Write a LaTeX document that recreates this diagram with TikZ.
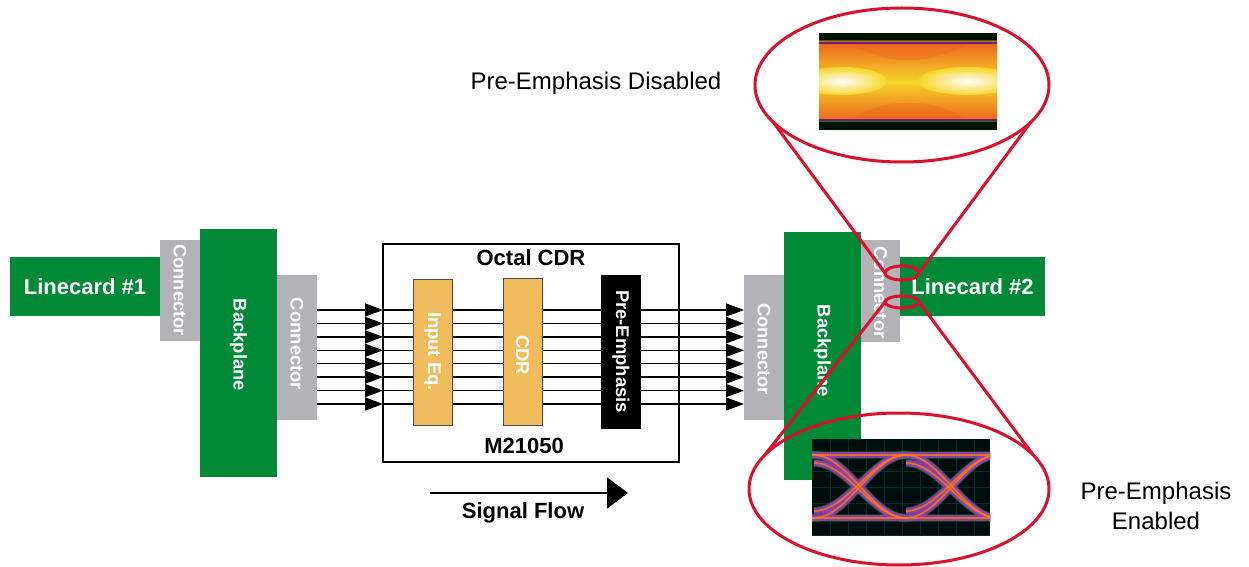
\documentclass[tikz,border=0pt]{standalone}
\usepackage{fontspec}
\setmainfont{Liberation Sans}
\usetikzlibrary{arrows.meta,shapes.geometric,calc}
\definecolor{grn}{RGB}{0,137,54}
\definecolor{gry}{RGB}{179,179,183}
\definecolor{org}{RGB}{240,188,94}
\definecolor{redc}{RGB}{218,16,44}
\definecolor{trp}{RGB}{150,60,190}
\definecolor{eyeo}{RGB}{236,100,30}
\definecolor{eyey}{RGB}{246,214,40}
\newcommand\eyetr[1]{%
  \foreach \a/\b in {455/518,463/518,518/455,511/455}{%
    \draw[#1] (814,\a) cos (860,{(\a+\b)/2}) sin (906,\b);
    \draw[#1] (906,\a) cos (952,{(\a+\b)/2}) sin (998,\b);
    \draw[#1] (722,\a) cos (768,{(\a+\b)/2}) sin (814,\b);
  }
  \draw[#1] (800,455) -- (1000,455);
  \draw[#1] (800,518) -- (1000,518);
}
\begin{document}
\begin{tikzpicture}[x=0.5pt,y=-0.5pt,
  blk/.style={inner sep=0pt, outer sep=0pt},
  gbox/.style={blk, fill=grn, text=white, font=\bfseries\fontsize{11pt}{13pt}\selectfont},
  cbox/.style={blk, fill=gry},
  obox/.style={blk, fill=org, draw=black!70, line width=0.5pt},
  kbox/.style={blk, fill=black},
  rot/.style={inner sep=0pt, rotate=-90, text=white, font=\bfseries\fontsize{9.2pt}{11pt}\selectfont},
  hlab/.style={inner sep=0pt, font=\bfseries\fontsize{11pt}{13pt}\selectfont},
  plab/.style={inner sep=0pt, font=\fontsize{12pt}{14pt}\selectfont, align=center},
  sig/.style={line width=0.75pt, -{Triangle[length=9pt,width=6.5pt]}},
  ell/.style={ellipse, draw=redc, line width=1.5pt, inner sep=0pt, outer sep=0pt},
  redl/.style={draw=redc, line width=1.5pt},
  trG/.style={line width=4.2pt, green!55!black, opacity=.45},
  trA/.style={line width=3.2pt, trp, opacity=.9},
  trB/.style={line width=0.9pt, orange, opacity=.75}
]
\useasboundingbox (0,0) rectangle (1249,567);

% ---- left side
\node[gbox, minimum width=75pt, minimum height=29.5pt] (lc1) at (85,286.5) {Linecard \#1};
\node[cbox, minimum width=20pt, minimum height=50.5pt] (con1) at (180,290.5) {};
\node[gbox, minimum width=38.5pt, minimum height=124pt] (bp1) at (238.5,353) {};
\node[cbox, minimum width=20pt, minimum height=72.5pt] (con2) at (297,347.5) {};
\node[rot] (con1t) at (180,290) {Connector};
\node[rot] (bp1t) at (238.5,345) {Backplane};
\node[rot] (con2t) at (297,344) {Connector};

% ---- chip box
\node[blk, draw, line width=0.8pt, minimum width=148pt, minimum height=109pt] (cdrbox) at (531,353) {};
\node[hlab] (oct) at (531,258) {Octal CDR};
\node[hlab] (mnum) at (524,446) {M21050};

% ---- right side blocks
\node[cbox, minimum width=20pt, minimum height=72.5pt] (con3) at (764,347.5) {};
\node[gbox, minimum width=38.5pt, minimum height=124pt] (bp2) at (822.5,356) {};
\node[cbox, minimum width=19.5pt, minimum height=51pt] (con4) at (880.5,291) {};
\node[gbox, minimum width=72.5pt, minimum height=29.5pt] (lc2) at (972.5,286.5) {Linecard \#2};
\node[rot] (con3t) at (764,349) {Connector};
\node[rot] (bp2t) at (822.5,351) {Backplane};
\node[rot] (con4t) at (880.5,292.5) {Connector};

% ---- signal lines
\foreach \k in {0,...,7}{
  \pgfmathsetmacro\yy{310+13.43*\k}
  \draw[sig] (con2.east |- 0,\yy) -- (cdrbox.west |- 0,\yy);
  \draw[sig] (cdrbox.west |- 0,\yy) -- (con3.west |- 0,\yy);
}

% ---- internal blocks
\node[obox, minimum width=19.5pt, minimum height=73pt] (ieq) at (432.5,352) {};
\node[obox, minimum width=19.5pt, minimum height=73.5pt] (cdrb) at (522.5,351.5) {};
\node[kbox, minimum width=20pt, minimum height=77pt] (pe) at (621,352) {};
\node[rot] (ieqt) at (432.5,351.5) {Input Eq.};
\node[rot] (cdrt) at (522.5,355) {CDR};
\node[rot] (pet) at (621,351.5) {Pre-Emphasis};

% ---- signal flow
\coordinate (sfa) at (430,493);
\coordinate (sfb) at (628,493);
\draw[line width=0.6pt, -{Triangle[length=10.5pt,width=15.5pt]}] (sfa) -- (sfb);
\node[hlab] (sft) at (523,513) {Signal Flow};

% ---- eye: pre-emphasis disabled
\begin{scope}
\clip (819,33) rectangle (997,130);
\fill[black!92!green] (819,33) rectangle (997,130);
\shade[top color=eyeo, bottom color=eyeo, middle color=eyey] (819,42) rectangle (997,121);
\fill[eyeo, opacity=.35] (850,43) .. controls (885,66) and (930,66) .. (970,43) -- cycle;
\fill[eyeo, opacity=.35] (850,120) .. controls (885,97) and (930,97) .. (970,120) -- cycle;
\shade[inner color=white, outer color=eyey] (842,81) ellipse [x radius=45, y radius=14];
\shade[inner color=white, outer color=eyey] (968,81) ellipse [x radius=50, y radius=14];
\draw[violet!80!blue, line width=1pt, opacity=.8] (819,43) -- (997,43);
\draw[violet!80!blue, line width=1pt, opacity=.8] (819,120) -- (997,120);
\draw[green!50!black, line width=0.5pt] (819,41) -- (997,41);
\draw[green!50!black, line width=0.5pt] (819,122) -- (997,122);
\end{scope}

% ---- eye: pre-emphasis enabled
\begin{scope}
\clip (812,439) rectangle (990,535);
\fill[black!90!teal] (812,439) rectangle (990,535);
\foreach \gx in {830,848,...,990} \draw[teal!35!black, line width=0.3pt] (\gx,439) -- (\gx,535);
\foreach \gy in {455,471,...,535} \draw[teal!35!black, line width=0.3pt] (812,\gy) -- (990,\gy);
\eyetr{trG}
\eyetr{trA}
\eyetr{trB}
\end{scope}

% ---- labels
\node[plab] (pdis) at (596,83) {Pre-Emphasis Disabled};
\node[plab] (pen) at (1156,506) {Pre-Emphasis\\[1pt]Enabled};

% ---- red magnifiers
\node[ell, minimum width=147pt, minimum height=77pt] (bigtop) at (902,85) {};
\node[ell, minimum width=150pt, minimum height=76pt] (bigbot) at (899,489) {};
\node[ell, minimum width=17pt, minimum height=7pt] (smtop) at (902,273) {};
\node[ell, minimum width=17pt, minimum height=6pt] (smbot) at (902,302) {};
\draw[redl] (bigtop.196) -- (smtop.west);
\draw[redl] (bigtop.344) -- (smtop.east);
\draw[redl] (smbot.west) -- (bigbot.166);
\draw[redl] (smbot.east) -- (bigbot.14);
\end{tikzpicture}
\end{document}
